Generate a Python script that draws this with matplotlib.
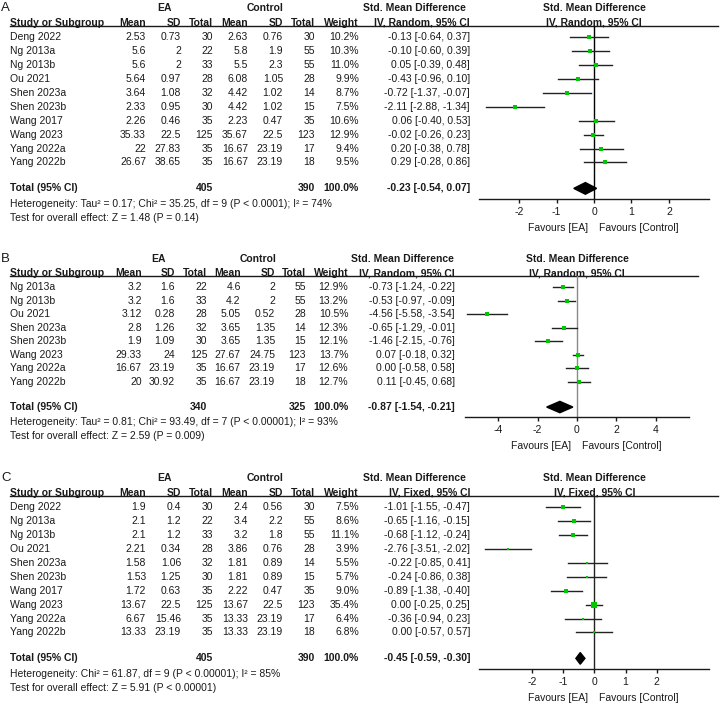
import matplotlib
matplotlib.use("Agg")
import matplotlib.pyplot as plt
from matplotlib.patches import Polygon

plt.rcParams["font.family"] = ["Liberation Sans", "DejaVu Sans"]
plt.rcParams["axes.unicode_minus"] = False

W, H = 720, 705
FS = 7.5
GREEN = "#00c800"
INK = "#1a1a1a"

# ── Panel A data ──────────────────────────────────────────────────────────
a_study = ["Deng 2022", "Ng 2013a", "Ng 2013b", "Ou 2021", "Shen 2023a",
           "Shen 2023b", "Wang 2017", "Wang 2023", "Yang 2022a", "Yang 2022b"]
a_ea_mean = [2.53, 5.6, 5.6, 5.64, 3.64, 2.33, 2.26, 35.33, 22, 26.67]
a_ea_sd = [0.73, 2, 2, 0.97, 1.08, 0.95, 0.46, 22.5, 27.83, 38.65]
a_ea_n = [30, 22, 33, 28, 32, 30, 35, 125, 35, 35]
a_ct_mean = [2.63, 5.8, 5.5, 6.08, 4.42, 4.42, 2.23, 35.67, 16.67, 16.67]
a_ct_sd = [0.76, 1.9, 2.3, 1.05, 1.02, 1.02, 0.47, 22.5, 23.19, 23.19]
a_ct_n = [30, 55, 55, 28, 14, 15, 35, 123, 17, 18]
a_weight = [10.2, 10.3, 11.0, 9.9, 8.7, 7.5, 10.6, 12.9, 9.4, 9.5]
a_smd = [-0.13, -0.10, 0.05, -0.43, -0.72, -2.11, 0.06, -0.02, 0.20, 0.29]
a_lo = [-0.64, -0.60, -0.39, -0.96, -1.37, -2.88, -0.40, -0.26, -0.38, -0.28]
a_hi = [0.37, 0.39, 0.48, 0.10, -0.07, -1.34, 0.53, 0.23, 0.78, 0.86]
a_total = [405, 390, -0.23, -0.54, 0.07]
a_het = "Heterogeneity: Tau² = 0.17; Chi² = 35.25, df = 9 (P < 0.0001); I² = 74%"
a_test = "Test for overall effect: Z = 1.48 (P = 0.14)"

# ── Panel B data ──────────────────────────────────────────────────────────
b_study = ["Ng 2013a", "Ng 2013b", "Ou 2021", "Shen 2023a", "Shen 2023b",
           "Wang 2023", "Yang 2022a", "Yang 2022b"]
b_ea_mean = [3.2, 3.2, 3.12, 2.8, 1.9, 29.33, 16.67, 20]
b_ea_sd = [1.6, 1.6, 0.28, 1.26, 1.09, 24, 23.19, 30.92]
b_ea_n = [22, 33, 28, 32, 30, 125, 35, 35]
b_ct_mean = [4.6, 4.2, 5.05, 3.65, 3.65, 27.67, 16.67, 16.67]
b_ct_sd = [2, 2, 0.52, 1.35, 1.35, 24.75, 23.19, 23.19]
b_ct_n = [55, 55, 28, 14, 15, 123, 17, 18]
b_weight = [12.9, 13.2, 10.5, 12.3, 12.1, 13.7, 12.6, 12.7]
b_smd = [-0.73, -0.53, -4.56, -0.65, -1.46, 0.07, 0.00, 0.11]
b_lo = [-1.24, -0.97, -5.58, -1.29, -2.15, -0.18, -0.58, -0.45]
b_hi = [-0.22, -0.09, -3.54, -0.01, -0.76, 0.32, 0.58, 0.68]
b_total = [340, 325, -0.87, -1.54, -0.21]
b_het = "Heterogeneity: Tau² = 0.81; Chi² = 93.49, df = 7 (P < 0.00001); I² = 93%"
b_test = "Test for overall effect: Z = 2.59 (P = 0.009)"

# ── Panel C data ──────────────────────────────────────────────────────────
c_study = ["Deng 2022", "Ng 2013a", "Ng 2013b", "Ou 2021", "Shen 2023a",
           "Shen 2023b", "Wang 2017", "Wang 2023", "Yang 2022a", "Yang 2022b"]
c_ea_mean = [1.9, 2.1, 2.1, 2.21, 1.58, 1.53, 1.72, 13.67, 6.67, 13.33]
c_ea_sd = [0.4, 1.2, 1.2, 0.34, 1.06, 1.25, 0.63, 22.5, 15.46, 23.19]
c_ea_n = [30, 22, 33, 28, 32, 30, 35, 125, 35, 35]
c_ct_mean = [2.4, 3.4, 3.2, 3.86, 1.81, 1.81, 2.22, 13.67, 13.33, 13.33]
c_ct_sd = [0.56, 2.2, 1.8, 0.76, 0.89, 0.89, 0.47, 22.5, 23.19, 23.19]
c_ct_n = [30, 55, 55, 28, 14, 15, 35, 123, 17, 18]
c_weight = [7.5, 8.6, 11.1, 3.9, 5.5, 5.7, 9.0, 35.4, 6.4, 6.8]
c_smd = [-1.01, -0.65, -0.68, -2.76, -0.22, -0.24, -0.89, 0.00, -0.36, 0.00]
c_lo = [-1.55, -1.16, -1.12, -3.51, -0.85, -0.86, -1.38, -0.25, -0.94, -0.57]
c_hi = [-0.47, -0.15, -0.24, -2.02, 0.41, 0.38, -0.40, 0.25, 0.23, 0.57]
c_total = [405, 390, -0.45, -0.59, -0.30]
c_het = "Heterogeneity: Chi² = 61.87, df = 9 (P < 0.00001); I² = 85%"
c_test = "Test for overall effect: Z = 5.91 (P < 0.00001)"


def ci_text(e, lo, hi):
    return f"{e:.2f} [{lo:.2f}, {hi:.2f}]"


def panel(fig, letter, y0, step, colx, hcent, plot_px, xlim, ticks, vcolor,
          rule_end, method, rows, total, het, test):
    study, em, esd, en, cm, csd, cn, wt, smd, lo, hi = rows
    n = len(study)
    top, bot = -2.8, n + 4.3
    r_tot, r_het, r_test = n + 0.87, n + 1.97, n + 3.0
    r_axis, r_fav = n + 1.64, n + 3.72

    def fy(r):
        return 1 - (y0 + r * step) / H

    tab = fig.add_axes([0, fy(bot), 1, fy(top) - fy(bot)])
    tab.set_xlim(0, W)
    tab.set_ylim(bot, top)
    tab.axis("off")

    pc = (plot_px[0] + plot_px[1]) / 2
    bold = dict(fontsize=FS, fontweight="bold", va="center", color=INK)
    norm = dict(fontsize=FS, va="center", color=INK)

    # headers
    tab.text(1, -2.1, letter, fontsize=9.5, va="center", color=INK)
    tab.text(hcent[0], -2.1, "EA", ha="center", **bold)
    tab.text(hcent[1], -2.1, "Control", ha="center", **bold)
    tab.text(hcent[2], -2.1, "Std. Mean Difference", ha="center", **bold)
    tab.text(pc, -2.1, "Std. Mean Difference", ha="center", **bold)
    heads = ["Mean", "SD", "Total", "Mean", "SD", "Total", "Weight",
             f"IV, {method}, 95% CI"]
    tab.text(10, -1.05, "Study or Subgroup", ha="left", **bold)
    for x, h in zip(colx, heads):
        tab.text(x, -1.05, h, ha="right", **bold)
    tab.text(pc, -1.05, f"IV, {method}, 95% CI", ha="center", **bold)
    tab.plot([10, rule_end], [-0.82, -0.82], color=INK, lw=1)

    # study rows
    for i in range(n):
        vals = [f"{em[i]:g}", f"{esd[i]:g}", f"{en[i]}", f"{cm[i]:g}",
                f"{csd[i]:g}", f"{cn[i]}", f"{wt[i]:.1f}%",
                ci_text(smd[i], lo[i], hi[i])]
        tab.text(10, i, study[i], ha="left", **norm)
        for x, v in zip(colx, vals):
            tab.text(x, i, v, ha="right", **norm)

    # total rows
    tab.text(10, r_tot, "Total (95% CI)", ha="left", **bold)
    tab.text(colx[2], r_tot, str(total[0]), ha="right", **bold)
    tab.text(colx[5], r_tot, str(total[1]), ha="right", **bold)
    tab.text(colx[6], r_tot, "100.0%", ha="right", **bold)
    tab.text(colx[7], r_tot, ci_text(*total[2:]), ha="right", **bold)
    tab.text(10, r_het, het, ha="left", **norm)
    tab.text(10, r_test, test, ha="left", **norm)

    # forest plot
    ax = fig.add_axes([plot_px[0] / W, fy(r_axis), (plot_px[1] - plot_px[0]) / W,
                       fy(-0.82) - fy(r_axis)])
    ax.set_xlim(*xlim)
    ax.set_ylim(r_axis, -0.82)
    ax.patch.set_visible(False)
    for s in ["top", "left", "right"]:
        ax.spines[s].set_visible(False)
    ax.spines["bottom"].set_color(INK)
    ax.spines["bottom"].set_linewidth(1)
    ax.set_yticks([])
    ax.set_xticks(ticks)
    ax.set_xticklabels([str(t) for t in ticks])
    ax.tick_params(axis="x", length=3, width=1, labelsize=FS, pad=2.5,
                   colors=INK)
    ax.axvline(0, color=vcolor, lw=1, zorder=1)
    for i in range(n):
        ax.plot([lo[i], hi[i]], [i, i], color="#222222", lw=1, zorder=2)
        ax.plot(smd[i], i, marker="s", ms=0.81 * wt[i] ** 0.5, color=GREEN,
                mew=0, zorder=3)
    te, tlo, thi = total[2:]
    ax.add_patch(Polygon([(tlo, r_tot), (te, r_tot - 0.42), (thi, r_tot),
                          (te, r_tot + 0.42)], closed=True, color="black",
                         zorder=3))

    zp = plot_px[0] + (0 - xlim[0]) / (xlim[1] - xlim[0]) * (plot_px[1] - plot_px[0])
    tab.text(zp - 6, r_fav, "Favours [EA]", ha="right", **norm)
    tab.text(zp + 5, r_fav, "Favours [Control]", ha="left", **norm)


fig = plt.figure(figsize=(7.2, 7.05), dpi=100)
fig.patch.set_facecolor("white")

cols_ac = [146, 181, 213, 248, 283, 315, 359, 470]
cols_b = [141.7, 175, 207.3, 240.7, 275, 306, 348.3, 455]

panel(fig, "A", 37.3, 13.9, cols_ac, (165, 265.5, 414.7), (479, 709),
      (-3.07, 3.07), [-2, -1, 0, 1, 2], "black", 718, "Random",
      (a_study, a_ea_mean, a_ea_sd, a_ea_n, a_ct_mean, a_ct_sd, a_ct_n,
       a_weight, a_smd, a_lo, a_hi), a_total, a_het, a_test)

panel(fig, "B", 287.3, 13.5, cols_b, (159, 258, 402.5), (465, 689),
      (-5.69, 5.69), [-4, -2, 0, 2, 4], "#8a8a8a", 698, "Random",
      (b_study, b_ea_mean, b_ea_sd, b_ea_n, b_ct_mean, b_ct_sd, b_ct_n,
       b_weight, b_smd, b_lo, b_hi), b_total, b_het, b_test)

panel(fig, "C", 507.3, 13.9, cols_ac, (165, 265.5, 414.7), (479.3, 709.3),
      (-3.68, 3.68), [-2, -1, 0, 1, 2], "#222222", 718, "Fixed",
      (c_study, c_ea_mean, c_ea_sd, c_ea_n, c_ct_mean, c_ct_sd, c_ct_n,
       c_weight, c_smd, c_lo, c_hi), c_total, c_het, c_test)

fig.savefig("out.png", dpi=100, facecolor="white")
